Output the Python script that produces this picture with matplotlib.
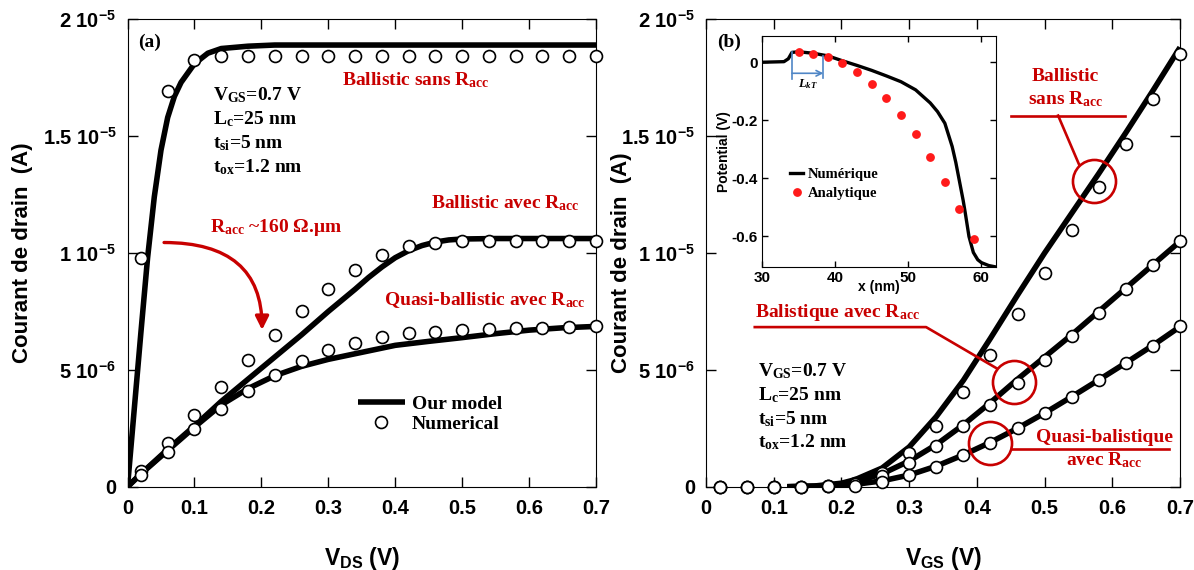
import matplotlib
matplotlib.use('Agg')
import matplotlib.pyplot as plt

plt.rcParams['mathtext.fontset'] = 'custom'
plt.rcParams['mathtext.rm'] = 'Liberation Serif:bold'
plt.rcParams['mathtext.bf'] = 'Liberation Serif:bold'
plt.rcParams['mathtext.it'] = 'Liberation Serif:italic:bold'
plt.rcParams['mathtext.sf'] = 'Liberation Sans:bold'

RED = '#c80000'
SERIF = 'Liberation Serif'
SANS = 'Liberation Sans'

# ---------------- data (currents in uA) ----------------
# (a) Id - Vds
vds_pts = [0.02, 0.06, 0.10, 0.14, 0.18, 0.22, 0.26, 0.30, 0.34, 0.38, 0.42, 0.46, 0.50, 0.54, 0.58, 0.62, 0.66, 0.70]
sans_pts = [9.8, 16.95, 18.25, 18.45, 18.45, 18.45, 18.45, 18.45, 18.45, 18.45, 18.45, 18.45, 18.45, 18.45, 18.45, 18.45, 18.45, 18.45]
avec_pts = [0.67, 1.86, 3.07, 4.27, 5.43, 6.5, 7.53, 8.47, 9.28, 9.93, 10.31, 10.45, 10.5, 10.5, 10.5, 10.5, 10.5, 10.5]
quasi_pts = [0.5, 1.47, 2.46, 3.31, 4.10, 4.79, 5.40, 5.86, 6.17, 6.41, 6.57, 6.64, 6.71, 6.76, 6.79, 6.81, 6.84, 6.86]

vds_sans = [0, 0.01, 0.02, 0.03, 0.04, 0.05, 0.06, 0.07, 0.08, 0.10, 0.12, 0.14, 0.18, 0.22, 0.70]
sans_mod = [0, 3.3, 6.6, 9.8, 12.4, 14.4, 15.8, 16.7, 17.3, 18.1, 18.55, 18.75, 18.85, 18.9, 18.9]
vds_avec = [0, 0.02, 0.06, 0.10, 0.14, 0.18, 0.22, 0.26, 0.30, 0.34, 0.36, 0.38, 0.40, 0.42, 0.44, 0.46, 0.48, 0.50, 0.55, 0.70]
avec_mod = [0, 0.55, 1.6, 2.6, 3.65, 4.6, 5.55, 6.5, 7.5, 8.45, 8.95, 9.4, 9.8, 10.1, 10.32, 10.47, 10.56, 10.6, 10.62, 10.62]
vds_quasi = [0, 0.02, 0.06, 0.10, 0.14, 0.18, 0.22, 0.26, 0.30, 0.35, 0.40, 0.45, 0.50, 0.55, 0.60, 0.65, 0.70]
quasi_mod = [0, 0.55, 1.55, 2.55, 3.5, 4.2, 4.75, 5.15, 5.45, 5.75, 6.05, 6.22, 6.38, 6.55, 6.7, 6.8, 6.86]

# (b) Id - Vgs
vgs_pts = [0.02, 0.06, 0.10, 0.14, 0.18, 0.22, 0.26, 0.30, 0.34, 0.38, 0.42, 0.46, 0.50, 0.54, 0.58, 0.62, 0.66, 0.70]
gs_sans_pts = [0, 0, 0, 0, 0.05, 0.17, 0.6, 1.46, 2.61, 4.04, 5.64, 7.39, 9.14, 11.0, 12.83, 14.68, 16.6, 18.5]
gs_avec_pts = [0, 0, 0, 0, 0.03, 0.1, 0.45, 1.03, 1.76, 2.61, 3.5, 4.43, 5.43, 6.43, 7.43, 8.46, 9.47, 10.5]
gs_quasi_pts = [0, 0, 0, 0, 0.02, 0.05, 0.2, 0.5, 0.86, 1.36, 1.89, 2.53, 3.14, 3.86, 4.57, 5.31, 6.04, 6.86]

vgs_mod = [0.12, 0.16, 0.20, 0.22, 0.26, 0.30, 0.34, 0.38, 0.42, 0.46, 0.50, 0.54, 0.58, 0.62, 0.66, 0.70]
gs_sans_mod = [0, 0.03, 0.15, 0.3, 0.8, 1.7, 3.0, 4.55, 6.35, 8.2, 10.0, 11.7, 13.4, 15.15, 16.95, 18.8]
gs_avec_mod = [0, 0.02, 0.1, 0.2, 0.55, 1.1, 1.8, 2.65, 3.6, 4.6, 5.55, 6.5, 7.5, 8.5, 9.5, 10.5]
gs_quasi_mod = [0, 0.01, 0.05, 0.1, 0.25, 0.5, 0.88, 1.36, 1.9, 2.5, 3.15, 3.85, 4.57, 5.3, 6.05, 6.85]

# inset: potential profile
x_num = [30, 33, 33.6, 34.1, 35, 37, 39, 41, 43, 45, 47, 49, 51, 53, 54, 55, 56, 56.5, 57, 57.5, 57.8, 58.3, 58.9, 59.5, 60, 61, 62]
pot_num = [0, 0.002, 0.012, 0.034, 0.036, 0.031, 0.022, 0.005, -0.011, -0.028, -0.047, -0.067, -0.095, -0.14, -0.17,
           -0.21, -0.29, -0.345, -0.41, -0.475, -0.52, -0.6, -0.655, -0.68, -0.69, -0.70, -0.705]
x_ana = [35, 37, 39, 41, 43, 45, 47, 49, 51, 53, 55, 57, 59]
pot_ana = [0.034, 0.030, 0.017, -0.003, -0.034, -0.076, -0.123, -0.182, -0.248, -0.325, -0.412, -0.506, -0.609]

params = ['V$_{\\mathrm{GS}}$=0.7 V', 'L$_{\\mathrm{c}}$=25 nm', 't$_{\\mathrm{si}}$=5 nm', 't$_{\\mathrm{ox}}$=1.2 nm']

yticks = [0, 5e-6, 1e-5, 1.5e-5, 2e-5]
ytick_labels = ['0', '5 10$^{\\mathsf{-6}}$', '1 10$^{\\mathsf{-5}}$', '1.5 10$^{\\mathsf{-5}}$', '2 10$^{\\mathsf{-5}}$']
xticks = [0, 0.1, 0.2, 0.3, 0.4, 0.5, 0.6, 0.7]
xtick_labels = ['0', '0.1', '0.2', '0.3', '0.4', '0.5', '0.6', '0.7']

u = 1e-6


def scale(v):
    return [a * u for a in v]


fig = plt.figure(figsize=(11.94, 5.70), dpi=100)
ax1 = fig.add_axes([0.1068, 0.1461, 0.3924, 0.82])
ax2 = fig.add_axes([0.5913, 0.1461, 0.397, 0.82])

for ax in (ax1, ax2):
    ax.set_xlim(0, 0.7)
    ax.set_ylim(0, 2e-5)
    ax.set_xticks(xticks)
    ax.set_xticklabels(xtick_labels)
    ax.set_yticks(yticks)
    ax.set_yticklabels(ytick_labels)
    ax.tick_params(direction='in', length=7, width=1, top=True, right=True, labelsize=14.5)
    ax.tick_params(axis='x', pad=9)
    ax.tick_params(axis='y', pad=8)
    for lab in ax.get_xticklabels() + ax.get_yticklabels():
        lab.set_fontfamily(SANS)
        lab.set_fontweight('bold')
    ax.set_ylabel('Courant de drain  (A)', fontsize=16, fontfamily=SANS, fontweight='bold')

circ = dict(ls='none', marker='o', ms=8.6, mfc='white', mec='black', mew=1.2, clip_on=False, zorder=4)
lw = 4

# ---------------- (a) ----------------
ax1.plot(vds_sans, scale(sans_mod), color='black', lw=lw, solid_capstyle='butt', label='Our model', zorder=3)
ax1.plot(vds_avec, scale(avec_mod), color='black', lw=lw, solid_capstyle='butt', zorder=3)
ax1.plot(vds_quasi, scale(quasi_mod), color='black', lw=lw, solid_capstyle='butt', zorder=3)
ax1.plot(vds_pts, scale(sans_pts), label='Numerical', **circ)
ax1.plot(vds_pts, scale(avec_pts), **circ)
ax1.plot(vds_pts, scale(quasi_pts), **circ)

ax1.set_xlabel('V$_{\\mathsf{DS}}$ (V)', fontsize=16.5, fontfamily=SANS, fontweight='bold')
ax1.xaxis.set_label_coords(0.5, -0.125)
ax1.yaxis.set_label_coords(-0.2017, 0.5)

ax1.text(0.023, 0.951, '(a)', transform=ax1.transAxes, fontsize=14, fontfamily=SERIF, fontweight='bold', va='center')
for s, yb in zip(params, [16.54, 15.5, 14.5, 13.47]):
    ax1.text(0.127, yb * u, s, fontsize=14, fontfamily=SERIF, fontweight='bold', va='baseline')
ax1.text(0.431, 17.17 * u, 'Ballistic sans R$_{\\mathrm{acc}}$', color=RED, fontsize=14,
         fontfamily=SERIF, fontweight='bold', ha='center', va='baseline')
ax1.text(0.564, 11.93 * u, 'Ballistic avec R$_{\\mathrm{acc}}$', color=RED, fontsize=14,
         fontfamily=SERIF, fontweight='bold', ha='center', va='baseline')
ax1.text(0.123, 10.9 * u, 'R$_{\\mathrm{acc}}$ ~160 \u03a9.\u03bcm', color=RED, fontsize=14,
         fontfamily=SERIF, fontweight='bold', ha='left', va='baseline')
ax1.text(0.534, 7.78 * u, 'Quasi-ballistic avec R$_{\\mathrm{acc}}$', color=RED, fontsize=14,
         fontfamily=SERIF, fontweight='bold', ha='center', va='baseline')
ax1.annotate('', xy=(0.201, 6.71 * u), xytext=(0.0546, 10.45 * u),
             arrowprops=dict(arrowstyle='-|>', connectionstyle='angle3,angleA=0,angleB=90',
                             color=RED, lw=2.4, mutation_scale=20, shrinkA=0, shrinkB=0))

leg = ax1.legend(loc='upper left', bbox_to_anchor=(0.492, 0.195), frameon=False, borderpad=0,
                 borderaxespad=0, handlelength=2.4, handletextpad=0.35, labelspacing=0.1,
                 prop={'family': SERIF, 'weight': 'bold', 'size': 14})

# ---------------- (b) ----------------
ax2.plot(vgs_mod, scale(gs_sans_mod), color='black', lw=lw, solid_capstyle='butt', zorder=3)
ax2.plot(vgs_mod, scale(gs_avec_mod), color='black', lw=lw, solid_capstyle='butt', zorder=3)
ax2.plot(vgs_mod, scale(gs_quasi_mod), color='black', lw=lw, solid_capstyle='butt', zorder=3)
ax2.plot(vgs_pts, scale(gs_sans_pts), **circ)
ax2.plot(vgs_pts, scale(gs_avec_pts), **circ)
ax2.plot(vgs_pts, scale(gs_quasi_pts), **circ)

ax2.set_xlabel('V$_{\\mathsf{GS}}$ (V)', fontsize=16.5, fontfamily=SANS, fontweight='bold')
ax2.xaxis.set_label_coords(0.5, -0.125)
ax2.yaxis.set_label_coords(-0.157, 0.48)

ax2.text(0.023, 0.951, '(b)', transform=ax2.transAxes, fontsize=14, fontfamily=SERIF, fontweight='bold', va='center')
for s, yb in zip(params, [4.71, 3.71, 2.69, 1.67]):
    ax2.text(0.077, yb * u, s, fontsize=14, fontfamily=SERIF, fontweight='bold', va='baseline')

red_txt = dict(color=RED, fontsize=14, fontfamily=SERIF, fontweight='bold', va='baseline')
ax2.text(0.531, 17.35 * u, 'Ballistic', ha='center', **red_txt)
ax2.text(0.531, 16.35 * u, 'sans R$_{\\mathrm{acc}}$', ha='center', **red_txt)
ax2.text(0.072, 7.28 * u, 'Balistique avec R$_{\\mathrm{acc}}$', ha='left', **red_txt)
ax2.text(0.588, 1.93 * u, 'Quasi-balistique', ha='center', **red_txt)
ax2.text(0.588, 0.93 * u, 'avec R$_{\\mathrm{acc}}$', ha='center', **red_txt)

red_line = dict(color=RED, lw=1.9, zorder=5, clip_on=False)
ax2.plot([0.450, 0.618], [15.88 * u, 15.88 * u], **red_line)
ax2.plot([0.52, 0.551], [15.88 * u, 13.78 * u], **red_line)
ax2.plot([0.072, 0.325, 0.429], [6.83 * u, 6.83 * u, 5.07 * u], **red_line)
ax2.plot([0.452, 0.683], [1.6 * u, 1.6 * u], **red_line)
ring = dict(ls='none', marker='o', ms=31, mfc='none', mec=RED, mew=1.9, zorder=5)
ax2.plot([0.5735, 0.4547, 0.419], [13.07 * u, 4.46 * u, 1.86 * u], **ring)

# ---------------- inset ----------------
axi = fig.add_axes([0.6382, 0.5316, 0.196, 0.4053])
axi.plot(x_num, pot_num, color='black', lw=2.4, label='Num\u00e9rique')
axi.plot(x_ana, pot_ana, ls='none', marker='o', ms=5.3, color='#ff1a1a', label='Analytique')
axi.set_xlim(30, 62)
axi.set_ylim(-0.705, 0.0905)
axi.set_xticks([30, 40, 50, 60])
axi.set_yticks([0, -0.2, -0.4, -0.6])
axi.set_yticklabels(['0', '-0.2', '-0.4', '-0.6'])
axi.tick_params(direction='in', length=4, width=1, top=True, right=True, labelsize=11, pad=3)
for lab in axi.get_xticklabels() + axi.get_yticklabels():
    lab.set_fontfamily(SANS)
    lab.set_fontweight('bold')
axi.set_xlabel('x (nm)', fontsize=10, fontfamily=SANS, fontweight='bold', labelpad=-4)
axi.set_ylabel('Potential (V)', fontsize=10, fontfamily=SANS, fontweight='bold', labelpad=0)

BLUE = '#4f86c6'
axi.plot([34.1, 34.1], [0.034, -0.058], color=BLUE, lw=1.2)
axi.plot([38.4, 38.4], [0.022, -0.055], color=BLUE, lw=1.2)
axi.annotate('', xy=(38.4, -0.038), xytext=(34.1, -0.038),
             arrowprops=dict(arrowstyle='->', color=BLUE, lw=1.2, shrinkA=0, shrinkB=0))
axi.text(36.3, -0.075, '$\\mathit{L}_{\\mathit{kT}}$', fontsize=9, ha='center', va='center')

axi.legend(loc='upper left', bbox_to_anchor=(0.12, 0.43), frameon=False, borderpad=0, borderaxespad=0,
           handlelength=0.9, handletextpad=0.3, labelspacing=0.42,
           prop={'family': SERIF, 'weight': 'bold', 'size': 10.5})

fig.savefig('out.png', dpi=100)
